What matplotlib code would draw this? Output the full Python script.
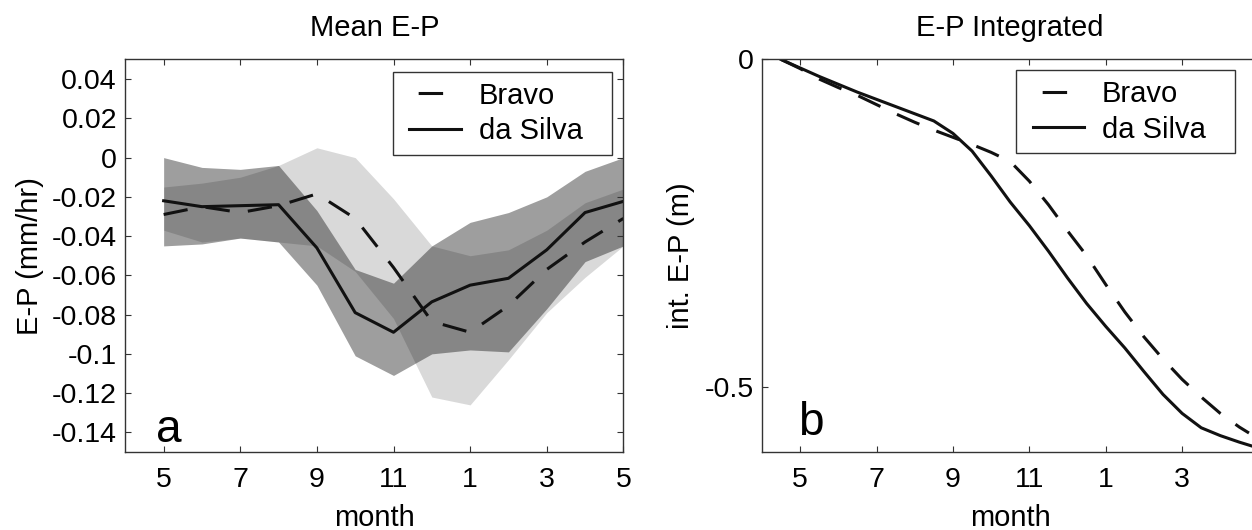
import matplotlib
matplotlib.use("Agg")
import matplotlib.pyplot as plt
from matplotlib.lines import Line2D
from matplotlib.legend_handler import HandlerLine2D

plt.rcParams['font.family'] = ['Liberation Sans', 'DejaVu Sans']
plt.rcParams['axes.unicode_minus'] = False

# --- values ---
months = [5, 6, 7, 8, 9, 10, 11, 12, 13, 14, 15, 16, 17]
month_ticks = [5, 7, 9, 11, 13, 15, 17]
month_labels = ['5', '7', '9', '11', '1', '3', '5']

# panel a: monthly mean E-P (mm/hr) and its spread
bravo_mean = [-0.029, -0.025, -0.028, -0.0245, -0.0185, -0.031, -0.056, -0.0835, -0.089,
              -0.0755, -0.057, -0.043, -0.031]
bravo_hi = [-0.015, -0.013, -0.010, -0.004, 0.005, 0.000, -0.021, -0.045, -0.050,
            -0.047, -0.037, -0.023, -0.016]
bravo_lo = [-0.037, -0.043, -0.041, -0.043, -0.045, -0.058, -0.082, -0.122, -0.126,
            -0.103, -0.079, -0.061, -0.045]

silva_mean = [-0.022, -0.025, -0.0245, -0.024, -0.046, -0.079, -0.089, -0.0735, -0.065,
              -0.0615, -0.047, -0.028, -0.0223]
silva_hi = [0.000, -0.005, -0.006, -0.004, -0.027, -0.057, -0.064, -0.045, -0.033,
            -0.028, -0.020, -0.007, 0.000]
silva_lo = [-0.045, -0.044, -0.041, -0.043, -0.065, -0.101, -0.111, -0.100, -0.098,
            -0.099, -0.077, -0.053, -0.045]

# panel b: integrated E-P (m)
silva_int_t = [4.5, 5, 5.5, 6, 6.5, 7, 7.5, 8, 8.5, 9, 9.5, 10, 10.5, 11, 11.5, 12,
               12.5, 13, 13.5, 14, 14.5, 15, 15.5, 16, 16.5, 17]
silva_int = [0, -0.013, -0.026, -0.038, -0.050, -0.061, -0.072, -0.083, -0.094, -0.113,
             -0.140, -0.178, -0.218, -0.254, -0.293, -0.334, -0.373, -0.408, -0.441,
             -0.477, -0.512, -0.541, -0.563, -0.575, -0.585, -0.594]

bravo_int_t = [4.5, 5, 5.5, 6, 6.5, 7, 7.5, 8, 8.5, 9, 9.5, 10, 10.5, 11, 11.5, 12,
               12.5, 13, 13.5, 14, 14.5, 15, 15.5, 16, 16.5, 16.75]
bravo_int = [0, -0.014, -0.030, -0.043, -0.055, -0.069, -0.083, -0.096, -0.108, -0.119,
             -0.130, -0.142, -0.156, -0.186, -0.222, -0.262, -0.300, -0.344, -0.386,
             -0.424, -0.458, -0.489, -0.516, -0.541, -0.562, -0.571]

ep_ticks = [0.04, 0.02, 0, -0.02, -0.04, -0.06, -0.08, -0.1, -0.12, -0.14]
ep_labels = ['0.04', '0.02', '0', '-0.02', '-0.04', '-0.06', '-0.08', '-0.1', '-0.12', '-0.14']
int_ticks = [0, -0.5]
int_labels = ['0', '-0.5']

LINE = '#111111'
LW = 2.2
DASH = (0, (8, 6))
FS = 21

fig = plt.figure(figsize=(12.52, 5.3), dpi=100)
ax1 = fig.add_axes([0.1001, 0.1472, 0.3978, 0.7406])
ax2 = fig.add_axes([0.6086, 0.1472, 0.3966, 0.7406])


def style(ax):
    for s in ax.spines.values():
        s.set_color('#333333')
        s.set_linewidth(1.0)
    ax.tick_params(direction='in', top=True, right=True, length=4, width=0.8,
                   color='#333333', labelsize=20.5)
    ax.tick_params(axis='x', pad=10.5)
    ax.tick_params(axis='y', pad=6)


def add_legend(ax, x0, ytop, w):
    # single centred dash for the Bravo key, like the original
    h_bravo = Line2D([], [], color=LINE, lw=LW, linestyle=(13, (8, 8)))
    h_silva = Line2D([], [], color=LINE, lw=LW)
    leg = ax.legend([h_bravo, h_silva], ['Bravo', 'da Silva'], loc='upper left',
                    bbox_to_anchor=(x0, ytop, w, 0), mode='expand', borderaxespad=0,
                    fontsize=FS, borderpad=0.34, labelspacing=0.26, handlelength=1.99,
                    handletextpad=0.61, fancybox=False, framealpha=1, edgecolor='#333333',
                    handler_map={Line2D: HandlerLine2D(xpad=0.233)})
    leg.get_frame().set_linewidth(1.0)


# --- panel a ---
ax1.fill_between(months, bravo_lo, bravo_hi, color='k', alpha=0.15, lw=0)
ax1.fill_between(months, silva_lo, silva_hi, color='k', alpha=0.38, lw=0)
ax1.plot(months, bravo_mean, color=LINE, lw=LW, linestyle=DASH)
ax1.plot(months, silva_mean, color=LINE, lw=LW)
ax1.set_xlim(4, 17)
ax1.set_ylim(-0.15, 0.05)
ax1.set_xticks(month_ticks)
ax1.set_xticklabels(month_labels)
ax1.set_yticks(ep_ticks)
ax1.set_yticklabels(ep_labels)
style(ax1)
ax1.set_title('Mean E-P', fontsize=FS, pad=17)
ax1.set_xlabel('month', fontsize=FS, labelpad=8)
ax1.set_ylabel('E-P (mm/hr)', fontsize=FS, labelpad=5.7)
ax1.text(0.0617, 0.0255, 'a', transform=ax1.transAxes, fontsize=33, ha='left', va='baseline')
add_legend(ax1, 0.537, 0.969, 0.4394)

# --- panel b ---
ax2.plot(bravo_int_t, bravo_int, color=LINE, lw=LW, linestyle=DASH)
ax2.plot(silva_int_t, silva_int, color=LINE, lw=LW)
ax2.set_xlim(4, 17)
ax2.set_ylim(-0.6, 0)
ax2.set_xticks(month_ticks[:-1])
ax2.set_xticklabels(month_labels[:-1])
ax2.set_yticks(int_ticks)
ax2.set_yticklabels(int_labels)
style(ax2)
ax2.set_title('E-P Integrated', fontsize=FS, pad=17)
ax2.set_xlabel('month', fontsize=FS, labelpad=8)
ax2.set_ylabel('int. E-P (m)', fontsize=FS, labelpad=7)
ax2.text(0.0725, 0.0433, 'b', transform=ax2.transAxes, fontsize=33, ha='left', va='baseline')
add_legend(ax2, 0.512, 0.973, 0.441)

fig.savefig('out.png', dpi=100)
